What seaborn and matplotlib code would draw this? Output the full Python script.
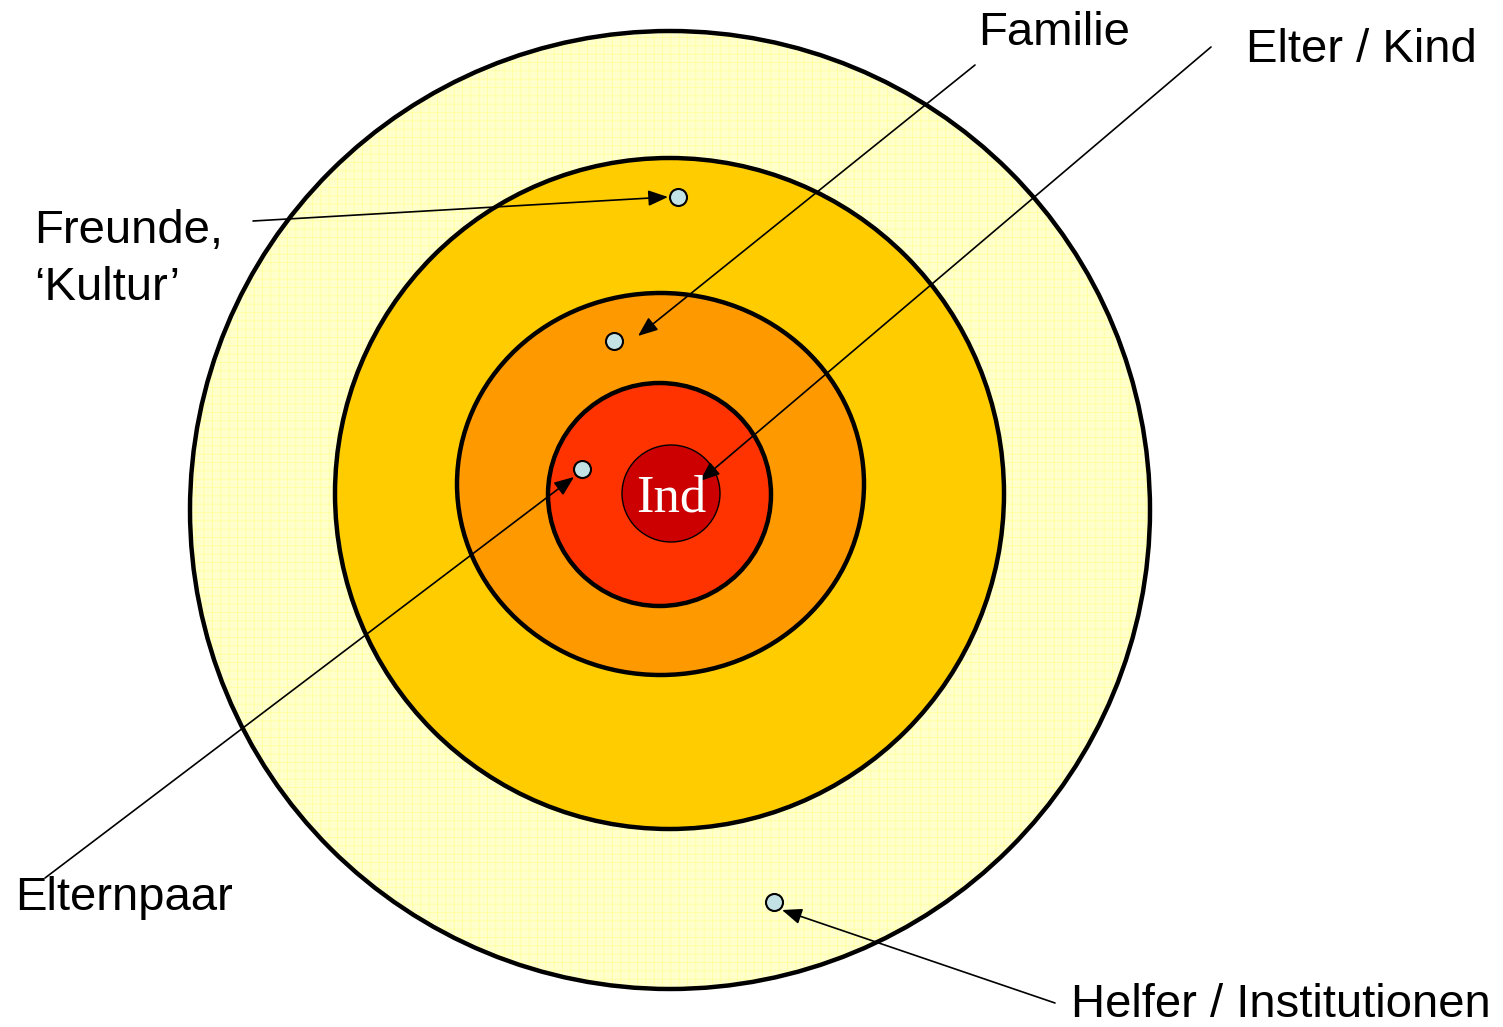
import matplotlib
matplotlib.use("Agg")
import matplotlib.pyplot as plt
from matplotlib.patches import Ellipse
import seaborn as sns
import pandas as pd

sns.set_theme(style="white")
plt.rcParams['font.family'] = ['Liberation Sans', 'DejaVu Sans']
plt.rcParams['hatch.linewidth'] = 0.5

# ---- data (pixel coordinates of the diagram, y downward) ----
ring_names = ["Helfer / Institutionen", "Freunde", "Familie", "Elter / Kind", "Ind"]
ring_cx = [670, 669.5, 660.5, 659.5, 671]
ring_cy = [510, 493.5, 484, 494.5, 493.5]
ring_w = [960, 669, 407, 223, 98]
ring_h = [958, 671, 382, 223, 97]
ring_colors = ["#FFFFCC", "#FFCC00", "#FF9900", "#FF3300", "#CC0000"]
ring_lw = [3.2, 3.2, 3.2, 3.2, 1.0]

dot_x = [678, 614, 582, 774]
dot_y = [197, 341, 469, 902]

label_texts = ["Familie", "Elter / Kind", "Freunde,", "\u2018Kultur\u2019", "Elternpaar", "Helfer / Institutionen"]
label_x = [978, 1246, 34, 34, 15, 1071]
label_y = [45, 62, 243, 300, 910, 1017]

arrow_from_x = [975, 1211, 253, 45, 1055]
arrow_from_y = [65, 47, 221, 878, 1003]
arrow_to_x = [638, 700, 668, 574, 782]
arrow_to_y = [336, 481, 197, 477, 910]

center_label = "Ind"

# ---- figure ----
fig = plt.figure(figsize=(15.03, 10.27), dpi=100)
ax = fig.add_axes([0, 0, 1, 1])
ax.set_xlim(0, 1503)
ax.set_ylim(1027, 0)
ax.set_axis_off()

for i in range(len(ring_names)):
    if i == 0:
        ax.add_patch(Ellipse((ring_cx[i], ring_cy[i]), ring_w[i], ring_h[i],
                             facecolor=ring_colors[i], edgecolor="#FFFF99",
                             hatch="++", linewidth=0, zorder=1 + i))
        ax.add_patch(Ellipse((ring_cx[i], ring_cy[i]), ring_w[i], ring_h[i],
                             facecolor="none", edgecolor="black",
                             linewidth=ring_lw[i], zorder=1 + i))
    else:
        ax.add_patch(Ellipse((ring_cx[i], ring_cy[i]), ring_w[i], ring_h[i],
                             facecolor=ring_colors[i], edgecolor="black",
                             linewidth=ring_lw[i], zorder=1 + i))

for fx, fy, tx, ty in zip(arrow_from_x, arrow_from_y, arrow_to_x, arrow_to_y):
    ax.annotate("", xy=(tx, ty), xytext=(fx, fy),
                arrowprops=dict(arrowstyle="-|>,head_length=0.6,head_width=0.24",
                                color="black", lw=1.2, shrinkA=0, shrinkB=0,
                                mutation_scale=20),
                zorder=10)

dots = pd.DataFrame({"x": dot_x, "y": dot_y})
sns.scatterplot(data=dots, x="x", y="y", ax=ax, s=150, color="#C2E2E6",
                edgecolor="black", linewidth=1.5, zorder=12, legend=False)
ax.set_xlim(0, 1503)
ax.set_ylim(1027, 0)
ax.set_axis_off()

for t, x, y in zip(label_texts, label_x, label_y):
    ax.text(x, y, t, fontsize=34, ha="left", va="baseline", color="black",
            zorder=15)

ax.text(671, 512, center_label, fontsize=38, ha="center", va="baseline",
        color="white", family=["Liberation Serif", "DejaVu Serif"], zorder=15)

fig.savefig("out.png", dpi=100)
